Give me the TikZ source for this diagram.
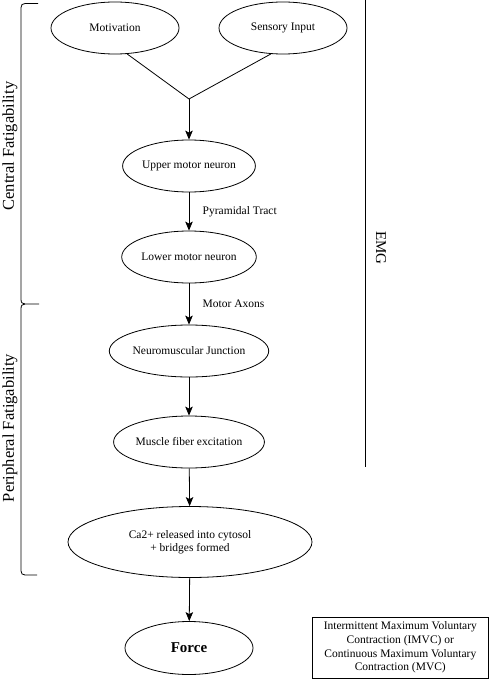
\documentclass[tikz,border=0pt]{standalone}
\usepackage{fontspec}
\setmainfont{Liberation Serif}
\usepackage{tikz}
\usetikzlibrary{arrows.meta, positioning, shapes}

\begin{document}
\begin{tikzpicture}[x=1pt, y=-1pt, line width=0.8pt,
    stage/.style={draw, ellipse, inner sep=0pt, minimum width=128pt, minimum height=52pt,
      font=\fontsize{11.5}{13.5}\selectfont, align=center},
    flow/.style={-{Stealth[length=9pt, width=7.5pt, inset=2pt]}},
    side/.style={font=\fontsize{16.5}{19}\selectfont, rotate=90}]
      \useasboundingbox (0,0) rectangle (489,679);

      % Inputs at the top
      \node[stage] (mot) at (115,28) {Motivation};
      \node[stage] (sens) at (283,28) {Sensory Input};
      \coordinate (join) at (189,99);
      \draw (mot.-65) -- (join) -- (sens.-115);

      % Main chain
      \node[stage] (upper) at (189,166) {Upper motor neuron};
      \node[stage] (lower) at (189,257) {Lower motor neuron};
      \node[stage] (nmj) at (189,351) {Neuromuscular Junction};
      \node[stage] (fiber) at (189,442) {Muscle fiber excitation};
      \node[stage, minimum width=244pt, minimum height=71pt] (calc) at (190,542)
        {Ca2+ released into cytosol\\+ bridges formed};
      \node[stage, minimum height=53pt, font=\fontsize{15}{17}\selectfont\bfseries] (force) at (189,648) {Force};

      \draw[flow] (join) -- (upper);
      \draw[flow] (upper) -- node[right=10pt, font=\fontsize{11.5}{13.5}\selectfont] (pyr) {Pyramidal Tract} (lower);
      \draw[flow] (lower) -- node[right=10pt, font=\fontsize{11.5}{13.5}\selectfont] (axon) {Motor Axons} (nmj);
      \draw[flow] (nmj) -- (fiber);
      \draw[flow] (fiber) -- (calc);
      \draw[flow] (calc) -- (force);

      % Protocol box
      \node[draw, minimum width=176pt, minimum height=61pt, inner sep=0pt, align=center,
        font=\fontsize{11.5}{13.6}\selectfont] (proto) at (400.3,647.5)
        {Intermittent Maximum Voluntary\\Contraction (IMVC) or\\Continuous Maximum Voluntary\\Contraction (MVC)};

      % Brackets on the left
      \draw (38,3.5) -- (25,3.5) .. controls (22.5,3.5) and (21,5) .. (21,7.5) -- (21,299)
        .. controls (21,302.5) and (22,304) .. (25,304) -- (39,304);
      \draw (25,304) .. controls (22,304) and (21,305.5) .. (21,309) -- (21,571)
        .. controls (21,573.5) and (22.5,575) .. (25,575) -- (37,575);
      \node[side] (central) at (10,146) {Central Fatigability};
      \node[side] (periph) at (10,428) {Peripheral Fatigability};

      % EMG line on the right
      \coordinate (emgtop) at (365,0);
      \coordinate (emgbot) at (365,467);
      \draw (emgtop) -- (emgbot);
      \node[font=\fontsize{15}{17}\selectfont, rotate=-90] (emg) at (381,248) {EMG};
    \end{tikzpicture}
\end{document}
